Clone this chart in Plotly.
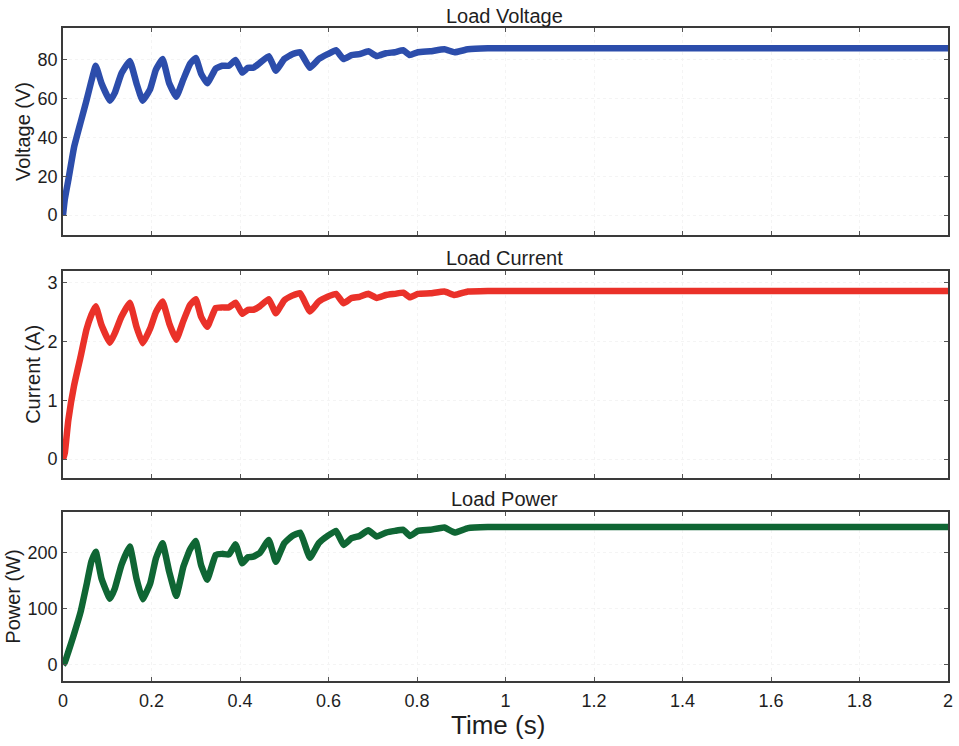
import plotly.graph_objects as go

# Simulation time base (s) shared by the three load quantities
time_s = [0, 0.004, 0.012, 0.025, 0.04, 0.053, 0.064, 0.074, 0.087, 0.106,
          0.117, 0.132, 0.151, 0.166, 0.18, 0.197, 0.21, 0.225, 0.24, 0.256,
          0.272, 0.287, 0.30, 0.312, 0.326, 0.345, 0.36, 0.375, 0.39, 0.405,
          0.418, 0.43, 0.445, 0.465, 0.481, 0.50, 0.518, 0.536, 0.558, 0.578,
          0.598, 0.617, 0.634, 0.652, 0.67, 0.69, 0.709, 0.73, 0.75, 0.769,
          0.784, 0.802, 0.83, 0.862, 0.885, 0.915, 0.96, 1.03, 1.3, 1.6, 2.0]

load_voltage = [0, 8, 18, 35, 48, 59, 69, 77, 68, 59,
                63, 73, 79.5, 68, 59, 65, 75, 80.5, 68, 61,
                70, 78, 81, 73, 68, 75.5, 77, 77, 80, 73.5,
                76, 76, 78.5, 82, 74.5, 80.5, 83, 84, 76, 80.5,
                83, 85, 80.5, 82.5, 83, 84.5, 82, 83.5, 84, 85,
                82.5, 84, 84.5, 85.5, 84, 85.5, 86, 86, 86, 86, 86]

load_current = [0, 0.1, 0.66, 1.25, 1.75, 2.2, 2.45, 2.6, 2.28, 1.98,
                2.14, 2.42, 2.66, 2.25, 1.97, 2.22, 2.5, 2.68, 2.31, 2.03,
                2.35, 2.62, 2.72, 2.42, 2.25, 2.57, 2.58, 2.58, 2.66, 2.47,
                2.54, 2.54, 2.6, 2.72, 2.48, 2.7, 2.78, 2.82, 2.51, 2.68,
                2.76, 2.81, 2.65, 2.74, 2.76, 2.81, 2.74, 2.79, 2.81, 2.83,
                2.75, 2.81, 2.82, 2.85, 2.79, 2.85, 2.86, 2.86, 2.86, 2.86, 2.86]

load_power = [0, 4, 23, 55, 95, 142, 184, 202, 154, 118,
              136, 178, 211, 154, 117, 145, 190, 217, 166, 123,
              175, 206, 221, 178, 152, 196, 198, 197, 215, 181,
              192, 193, 200, 223, 184, 217, 230, 236, 191, 217,
              230, 239, 214, 226, 230, 240, 229, 236, 239, 241,
              230, 239, 241, 245, 236, 244, 246, 246, 246, 246, 246]

panel_titles = ["Load Voltage", "Load Current", "Load Power"]
y_titles = ["Voltage (V)", "Current (A)", "Power (W)"]
y_ticks = [[0, 20, 40, 60, 80], [0, 1, 2, 3], [0, 100, 200]]
y_ranges = [[-10.3, 96.5], [-0.32, 3.2], [-29, 273]]
x_ticks = [0, 0.2, 0.4, 0.6, 0.8, 1, 1.2, 1.4, 1.6, 1.8, 2]
series = [load_voltage, load_current, load_power]
colors = ["#2c4dab", "#ea3129", "#0f6634"]
domains = [[0.683, 1.0], [0.311, 0.628], [0.0, 0.259]]

FONT = "Arial, Liberation Sans, sans-serif"
TEXT = "#1e1e1e"
fig = go.Figure()

layout = dict(
    width=959, height=746,
    margin=dict(l=63, r=6, t=28, b=65),
    paper_bgcolor="white", plot_bgcolor="white",
    showlegend=False,
    font=dict(family=FONT, color=TEXT),
    annotations=[],
)

title_y = [1.018, 0.648, 0.279]
for i in range(3):
    n = "" if i == 0 else str(i + 1)
    fig.add_trace(go.Scatter(
        x=time_s, y=series[i], mode="lines",
        line=dict(color=colors[i], width=6.5, shape="spline", smoothing=0.35),
        xaxis="x" + n, yaxis="y" + n, hoverinfo="skip",
    ))
    common = dict(
        showline=True, linecolor="#3a3a3a", linewidth=1.6, mirror="ticks",
        ticks="inside", ticklen=4, tickcolor="#555555", tickwidth=1,
        showgrid=True, gridcolor="#f4f4f4", griddash="dot", gridwidth=1,
        zeroline=False,
        tickfont=dict(size=18, color=TEXT, family=FONT),
    )
    layout["xaxis" + n] = dict(
        common, domain=[0, 1], range=[0, 2], tickvals=x_ticks,
        showticklabels=(i == 2), anchor="y" + n, ticklabelstandoff=3,
    )
    layout["yaxis" + n] = dict(
        common, domain=domains[i], range=y_ranges[i], tickvals=y_ticks[i],
        anchor="x" + n,
        title=dict(text=y_titles[i], font=dict(size=20, color=TEXT),
                   standoff=2),
    )
    layout["annotations"].append(dict(
        text=panel_titles[i], x=0.499, y=title_y[i], xref="paper", yref="paper",
        xanchor="center", yanchor="middle", showarrow=False,
        font=dict(size=20, color=TEXT, family=FONT),
    ))

layout["annotations"].append(dict(
    text="Time (s)", x=0.492, y=-0.067, xref="paper", yref="paper",
    xanchor="center", yanchor="middle", showarrow=False,
    font=dict(size=26, color=TEXT, family=FONT),
))

fig.update_layout(**layout)
fig.write_html("out.html")
